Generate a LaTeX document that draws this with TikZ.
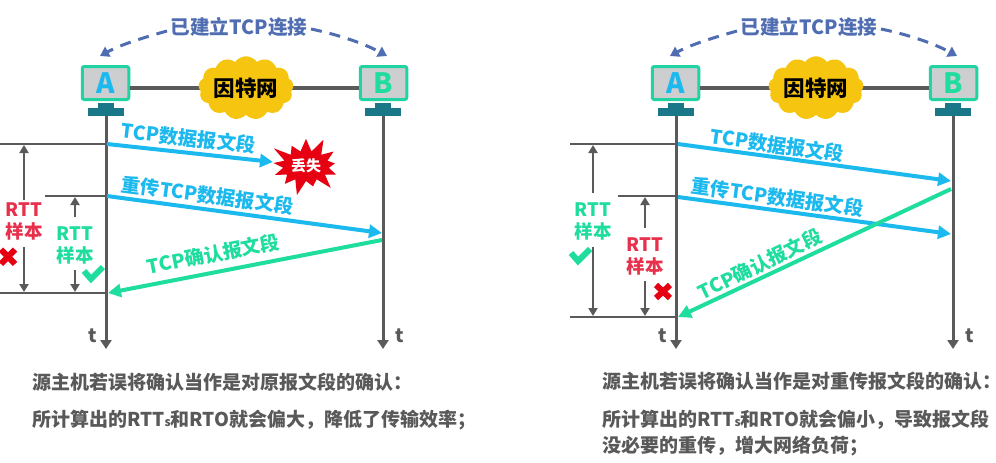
\documentclass[tikz,border=0pt]{standalone}
\usepackage{fontspec}
\setmainfont{Noto Sans CJK SC}
\usetikzlibrary{arrows.meta,shapes.symbols}
\definecolor{cyanB}{HTML}{1CB9EE}
\definecolor{greenT}{HTML}{1EDD9E}
\definecolor{frameT}{HTML}{1FD3A2}
\definecolor{screenG}{HTML}{CDCED0}
\definecolor{standT}{HTML}{1A7788}
\definecolor{lineG}{HTML}{5A5A5A}
\definecolor{textG}{HTML}{595959}
\definecolor{redL}{HTML}{E8304C}
\definecolor{redX}{HTML}{E60012}
\definecolor{cloudY}{HTML}{F6C510}
\definecolor{blueT}{HTML}{4F6DB0}
\newcommand{\fs}[1]{\fontsize{#1}{#1}\selectfont\bfseries}
\tikzset{
  screen/.style={draw=frameT,fill=screenG,line width=3pt,rounded corners=2pt,minimum width=46.5pt,minimum height=33pt,inner sep=0pt},
  standpart/.style={fill=standT,draw=none,inner sep=0pt},
  inet/.style={cloud,cloud puffs=13,cloud puff arc=110,aspect=1.7,fill=cloudY,draw=none,minimum width=70pt,minimum height=45pt,inner sep=0pt,font=\fs{21.5},text=black},
  wire/.style={draw=lineG,line width=4pt},
  timeline/.style={draw=lineG,line width=3pt,-{Triangle[length=9pt,width=11pt]},shorten >=-1pt},
  tick/.style={draw=lineG,line width=1.2pt},
  span/.style={draw=lineG,line width=2.6pt,-{Triangle[length=8pt,width=9pt]}},
  data/.style={draw=cyanB,line width=4pt,-{Triangle[length=13pt,width=13pt]}},
  ack/.style={draw=greenT,line width=4pt,-{Triangle[length=13pt,width=13pt]}},
  link/.style={draw=blueT,line width=3pt,dash pattern=on 11pt off 8pt,-{Triangle[length=9pt,width=11pt]}},
  lab/.style={font=\fs{19.3},inner sep=0pt},
  rttl/.style={font=\fontsize{18.5}{22}\selectfont\bfseries,align=center,inner sep=2pt},
  para/.style={font=\fs{19},text=textG,anchor=west,inner sep=0pt},
  tlab/.style={font=\fs{19},text=textG,inner sep=0pt},
  checkm/.style={draw=greenT,line width=6pt},
  crossm/.style={draw=redX,line width=6pt},
}
\newcommand{\sdhead}[2]{%
  \begin{scope}[xshift=#2pt]
    \node[screen] (A#1) at (105.5,83) {\fs{28}\textcolor{cyanB}{A}};
    \node[screen] (B#1) at (383.5,83) {\fs{28}\textcolor{greenT}{B}};
    \node[standpart,minimum width=16pt,minimum height=5pt] (An#1) at (106,105.5) {};
    \node[standpart,minimum width=36pt,minimum height=8pt] (Ab#1) at (106,112) {};
    \node[standpart,minimum width=16pt,minimum height=5pt] (Bn#1) at (383,105.5) {};
    \node[standpart,minimum width=36pt,minimum height=8pt] (Bb#1) at (383,112) {};
    \node[inet] (net#1) at (246,88) {};
    \draw[wire] (A#1.east |- net#1.center) -- (net#1.center);
    \draw[wire] (net#1.center) -- (B#1.west |- net#1.center);
    \node[inet] at (net#1.center) {因特网};
    \node[font=\fs{19.6},text=blueT,inner sep=0pt] (conn#1) at (239,27) {已建立TCP连接};
    \coordinate (Ae#1) at (106,348);
    \coordinate (Be#1) at (383,348);
    \draw[timeline] (Ab#1.south) -- (Ae#1);
    \draw[timeline] (Bb#1.south) -- (Be#1);
    \node[tlab] (tA#1) at (93,336) {t};
    \node[tlab] (tB#1) at (400,336) {t};
    \coordinate (cl#1) at (167,31);
    \coordinate (cr#1) at (311,29);
    \coordinate (al#1) at (100,56);
    \coordinate (ar#1) at (387,56);
    \draw[link] (cl#1) .. controls (142,38) and (120,45) .. (al#1);
    \draw[link] (cr#1) .. controls (340,35) and (365,44) .. (ar#1);
  \end{scope}}
\begin{document}
\begin{tikzpicture}[x=1pt,y=-1pt]
\useasboundingbox[fill=white] (0,0) rectangle (996,463);
\sdhead{l}{0}
\sdhead{r}{570}

% ---- left
\coordinate (l1) at (107,144);\coordinate (l1e) at (273,162);
\coordinate (l2) at (107,196);\coordinate (l2e) at (382,233);
\coordinate (l3) at (382,240);\coordinate (l3e) at (108,293);
\coordinate (lt1) at (0,144);\coordinate (lt2) at (45,196);\coordinate (lt3) at (0,293);
\draw[tick] (lt1) -- (l1);
\draw[tick] (lt2) -- (l2);
\draw[tick] (lt3) -- (106,293);
\draw[data] (l1) -- (l1e);
\draw[data] (l2) -- (l2e);
\draw[ack] (l3) -- (l3e);
\node[lab,text=cyanB,rotate=-6.5] (dl1) at (188.5,138) {TCP数据报文段};
\node[lab,text=cyanB,rotate=-7.5] (dl2) at (207.5,195) {重传TCP数据报文段};
\node[lab,text=greenT,rotate=11] (dl3) at (213.5,254) {TCP确认报文段};
\node[starburst,starburst points=13,starburst point height=17pt,fill=redX,draw=none,minimum width=80pt,minimum height=64pt,inner sep=0pt,font=\fs{15},text=white] (lost) at (306,166) {丢失};
\node[rttl,text=redL] (rl1) at (24,221) {RTT\\样本};
\node[rttl,text=greenT] (rl2) at (75,245.5) {RTT\\样本};
\coordinate (rl1t) at (24,145);\coordinate (rl1b) at (24,292);
\coordinate (rl2t) at (75,197);\coordinate (rl2b) at (75,292);
\draw[span] (rl1.north) -- (rl1t);
\draw[span] (24,247) -- (rl1b);
\draw[span] (75,217) -- (rl2t);
\draw[span] (75,270) -- (rl2b);
\draw[crossm] (1,249.5) -- (15,264) (15,249.5) -- (1,264);
\draw[checkm] (84,271) -- (91,279) -- (103,267);
\node[para] (pl1) at (32,382) {源主机若误将确认当作是对原报文段的确认：};
\node[para] (pl2) at (32,420) {所计算出的RTT{\fontsize{12}{12}\selectfont s}和RTO就会偏大，降低了传输效率；};

% ---- right
\coordinate (r1) at (678,144);\coordinate (r1e) at (951,181);
\coordinate (r2) at (678,197);\coordinate (r2e) at (951,234);
\coordinate (r3) at (951,189);\coordinate (r3e) at (678,317);
\coordinate (rt1) at (570,144);\coordinate (rt2) at (618,196);\coordinate (rt3) at (570,317);
\draw[tick] (rt1) -- (676,144);
\draw[tick] (rt2) -- (676,196);
\draw[tick] (rt3) -- (676,317);
\draw[data] (r1) -- (r1e);
\draw[data] (r2) -- (r2e);
\draw[ack] (r3) -- (r3e);
\node[lab,text=cyanB,rotate=-7.7] (dr1) at (777.5,145) {TCP数据报文段};
\node[lab,text=cyanB,rotate=-7.7] (dr2) at (777.5,197) {重传TCP数据报文段};
\node[lab,text=greenT,rotate=26] (dr3) at (760,264) {TCP确认报文段};
\node[rttl,text=greenT] (rr1) at (593,221) {RTT\\样本};
\node[rttl,text=redL] (rr2) at (645,256) {RTT\\样本};
\coordinate (rr1t) at (593,145);\coordinate (rr1b) at (593,316);
\coordinate (rr2t) at (645,197);\coordinate (rr2b) at (645,316);
\draw[span] (593,193) -- (rr1t);
\draw[span] (593,247) -- (rr1b);
\draw[span] (645,228) -- (rr2t);
\draw[span] (645,281) -- (rr2b);
\draw[checkm] (571,253) -- (578,261) -- (590,249);
\draw[crossm] (656,285) -- (670,298) (670,285) -- (656,298);
\node[para] (pr1) at (602,381) {源主机若误将确认当作是对重传报文段的确认\makebox[8pt][l]{：}};
\node[para] (pr2) at (602,420) {所计算出的RTT{\fontsize{12}{12}\selectfont s}和RTO就会偏小，导致报文段};
\node[para] (pr3) at (602,446) {没必要的重传，增大网络负荷；};
\end{tikzpicture}
\end{document}
